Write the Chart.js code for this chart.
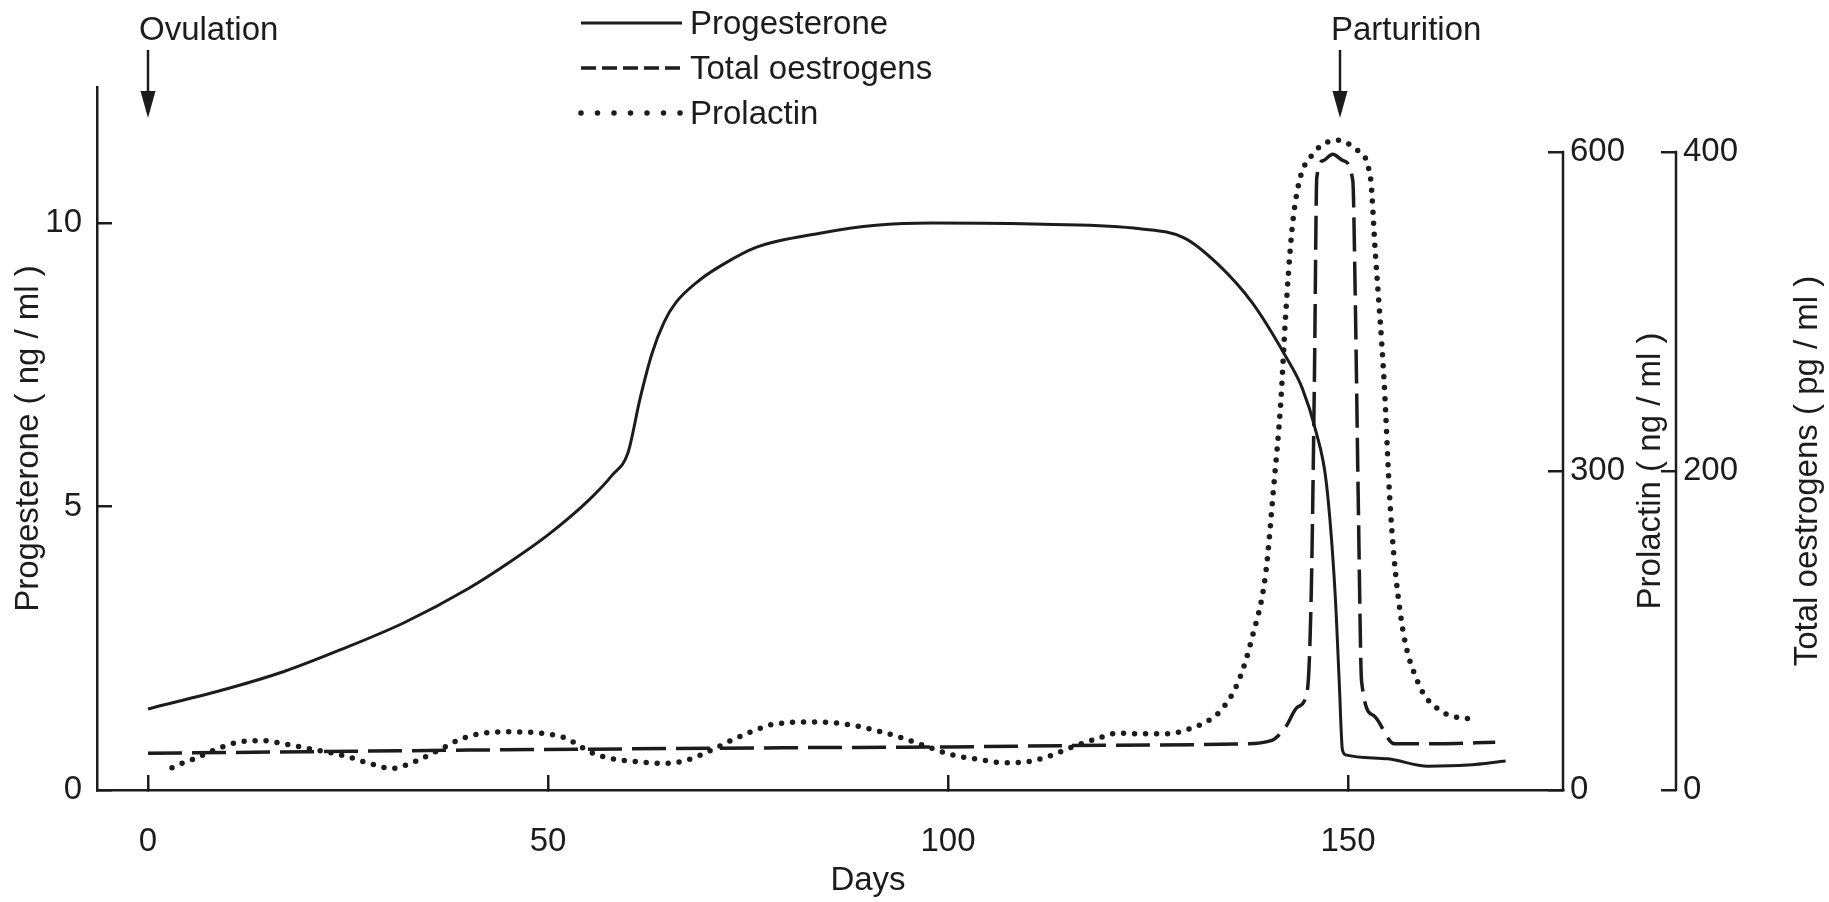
<!DOCTYPE html>
<html>
<head>
<meta charset="utf-8">
<title>Hormone levels during pregnancy</title>
<script src="https://cdn.jsdelivr.net/npm/chart.js@4.4.1/dist/chart.umd.min.js"></script>
<style>
  html, body { margin: 0; padding: 0; background: #fff; }
  #wrap { width: 1829px; height: 902px; position: relative; }
</style>
</head>
<body>
<div id="wrap"><canvas id="hormoneChart"></canvas></div>
<script>
// values (days after ovulation)
const progDays = [0, 10, 17, 24, 32, 40, 45, 50, 55, 58, 60, 61.5, 63, 64.5, 66, 69, 72, 76, 84, 91, 98, 112, 124, 129.5, 133.7, 138, 142.2, 144.3, 146, 147.3, 148.4, 148.9, 149.3, 149.7, 155, 160, 165, 169.7];
const progValues = [1.43, 1.79, 2.09, 2.47, 2.95, 3.55, 4.0, 4.5, 5.1, 5.55, 5.95, 6.9, 7.7, 8.25, 8.6, 9.0, 9.28, 9.57, 9.82, 9.96, 10.0, 9.98, 9.9, 9.74, 9.28, 8.6, 7.65, 7.08, 6.32, 5.41, 3.44, 1.92, 0.71, 0.62, 0.55, 0.42, 0.44, 0.51];

const oesDays = [0, 20, 40, 60, 80, 100, 120, 136, 140.4, 142.2, 143.7, 144.9, 145.4, 145.8, 146.1, 146.9, 148.1, 149.4, 150.6, 150.9, 151.3, 151.7, 153.2, 155.8, 161.3, 168.4];
const oesValues = [23, 24, 25, 25.8, 26.5, 27, 28, 28.8, 31, 39.5, 52, 62, 122, 257, 384, 394.6, 398.6, 394.6, 382, 311, 176, 68, 46.7, 29, 29, 30];

const prlDays = [3, 4.2, 5.7, 8.3, 11.3, 14.4, 17, 20.5, 24.6, 27.7, 30.5, 32.2, 33.8, 36.8, 38.9, 41.4, 45, 49.6, 52.1, 53.4, 55.2, 57.8, 61.3, 64.4, 67.4, 70.5, 73.1, 75.6, 78.3, 83.7, 88.2, 91.3, 94, 97.1, 100.2, 103.8, 106.9, 109.6, 112.7, 115.4, 118.5, 121.2, 124.3, 127.5, 130.4, 132, 134, 136.3, 138, 139.7, 140.7, 141.6, 142.2, 143, 143.9, 145.6, 148.6, 151.1, 152.8, 153.4, 154.5, 155.3, 156.6, 158.7, 161.7, 166];
const prlValues = [21, 25, 29, 37.7, 45, 46.4, 43.5, 38.4, 32, 25, 20.2, 23.4, 28.2, 39.3, 47.3, 52.8, 54.7, 53.1, 49, 44, 36, 29.8, 26.6, 25, 28.2, 37.7, 47.3, 55.3, 62, 64, 60.8, 55.3, 49.6, 41.6, 33.6, 28.8, 25.6, 26.2, 32, 40, 48, 53.4, 52.8, 53, 58, 63, 74, 102, 143, 203, 284, 365, 446, 527, 572, 598, 611, 602, 576, 507, 386, 264, 163, 102, 74, 66];

const dayTicks = [0, 50, 100, 150];
const progTicks = [0, 5, 10];
const prlTicks = [0, 300, 600];
const oesTicks = [0, 200, 400];

const eventDays = [0, 149];
const eventLabels = ["Ovulation", "Parturition"];

const ink = "#1c1c1c";
const fontName = '"Liberation Sans", Arial, sans-serif';

Chart.defaults.font.family = fontName;
Chart.defaults.font.size = 33;
Chart.defaults.color = ink;

function toPoints(days, values) {
    return days.map((d, i) => ({ x: d, y: values[i] }));
}

function fixTicks(values) {
    return scale => { scale.ticks = values.map(v => ({ value: v })); };
}

const axisLine = { display: true, color: ink, width: 2.5 };
const inwardTicks = {
    display: true,
    drawOnChartArea: false,
    drawTicks: true,
    tickLength: -15,
    tickWidth: 2.5,
    tickColor: ink,
    lineWidth: 2.5,
    color: ink
};

// legend samples are drawn a bit tighter than the curves
const legendDash = [[], [15, 6], [0, 16.5]];

const figureNotes = {
    id: "figureNotes",
    afterDraw(chart) {
        const ctx = chart.ctx;
        const xs = chart.scales.x;
        ctx.save();
        ctx.strokeStyle = ink;
        ctx.fillStyle = ink;
        ctx.font = "33px " + fontName;

        // right hand axes only run up to their top tick
        [["prl", "Prolactin ( ng / ml )", 88], ["oes", "Total oestrogens ( pg / ml )", 132]].forEach(([id, text, off]) => {
            const s = chart.scales[id];
            const yBottom = s.getPixelForValue(s.ticks[0].value);
            const yTop = s.getPixelForValue(s.ticks[s.ticks.length - 1].value);
            ctx.lineWidth = 2.5;
            ctx.beginPath();
            ctx.moveTo(s.left, yBottom + 1.25);
            ctx.lineTo(s.left, yTop - 1.25);
            ctx.stroke();

            ctx.save();
            ctx.translate(s.left + off, (yBottom + yTop) / 2);
            ctx.rotate(-Math.PI / 2);
            ctx.textAlign = "center";
            ctx.textBaseline = "middle";
            ctx.fillText(text, 0, 0);
            ctx.restore();
        });

        // x axis title sits right of centre in the original
        ctx.textAlign = "center";
        ctx.textBaseline = "alphabetic";
        ctx.fillText("Days", xs.getPixelForValue(90), 890);

        // legend
        chart.data.datasets.forEach((ds, i) => {
            const y = 23 + i * 45;
            ctx.save();
            ctx.lineWidth = ds.borderWidth;
            ctx.lineCap = ds.borderCapStyle || "butt";
            ctx.setLineDash(legendDash[i]);
            ctx.beginPath();
            ctx.moveTo(581, y);
            ctx.lineTo(682, y);
            ctx.stroke();
            ctx.restore();
            ctx.textAlign = "left";
            ctx.textBaseline = "alphabetic";
            ctx.fillText(ds.label, 690, y + 11);
        });

        // ovulation / parturition markers
        eventDays.forEach((d, i) => {
            const ax = xs.getPixelForValue(d);
            ctx.textAlign = "left";
            ctx.textBaseline = "alphabetic";
            ctx.fillText(eventLabels[i], ax - 9, 40);
            ctx.lineWidth = 2.5;
            ctx.beginPath();
            ctx.moveTo(ax, 50);
            ctx.lineTo(ax, 100);
            ctx.stroke();
            ctx.beginPath();
            ctx.moveTo(ax - 7.5, 91);
            ctx.lineTo(ax + 7.5, 91);
            ctx.lineTo(ax, 118);
            ctx.closePath();
            ctx.fill();
        });
        ctx.restore();
    }
};

const ctx = document.getElementById("hormoneChart").getContext("2d");

const hormoneChart = new Chart(ctx, {
    type: "line",
    data: {
        datasets: [{
            label: "Progesterone",
            data: toPoints(progDays, progValues),
            yAxisID: "y",
            borderColor: ink,
            borderWidth: 3,
            cubicInterpolationMode: "monotone",
            pointRadius: 0,
            fill: false
        }, {
            label: "Total oestrogens",
            data: toPoints(oesDays, oesValues),
            yAxisID: "oes",
            borderColor: ink,
            borderWidth: 3.5,
            borderDash: [34, 10],
            cubicInterpolationMode: "monotone",
            pointRadius: 0,
            fill: false
        }, {
            label: "Prolactin",
            data: toPoints(prlDays, prlValues),
            yAxisID: "prl",
            borderColor: ink,
            borderWidth: 5.5,
            borderDash: [0, 11],
            borderCapStyle: "round",
            cubicInterpolationMode: "monotone",
            pointRadius: 0,
            fill: false
        }]
    },
    options: {
        responsive: true,
        maintainAspectRatio: false,
        animation: false,
        layout: { padding: { top: 87, left: 0, right: 0, bottom: 0 } },
        plugins: {
            legend: { display: false },
            tooltip: { enabled: false }
        },
        scales: {
            x: {
                type: "linear",
                min: -6.375,
                max: 176.875,
                afterBuildTicks: fixTicks(dayTicks),
                afterFit: s => { s.height = 112; },
                border: axisLine,
                grid: inwardTicks,
                ticks: { padding: 47, maxRotation: 0, autoSkip: false }
            },
            y: {
                type: "linear",
                position: "left",
                min: 0,
                max: 12.4,
                afterBuildTicks: fixTicks(progTicks),
                afterFit: s => { s.width = 97; },
                border: axisLine,
                grid: inwardTicks,
                ticks: { padding: 30 },
                title: { display: true, text: "Progesterone ( ng / ml )", padding: { top: 9, bottom: 0 } }
            },
            prl: {
                type: "linear",
                position: "right",
                weight: 0,
                min: 0,
                max: 661.1,
                afterBuildTicks: fixTicks(prlTicks),
                afterFit: s => { s.width = 113; },
                border: { display: false },
                grid: inwardTicks,
                ticks: { padding: 22 }
            },
            oes: {
                type: "linear",
                position: "right",
                weight: 1,
                min: 0,
                max: 440.75,
                afterBuildTicks: fixTicks(oesTicks),
                afterFit: s => { s.width = 153; },
                border: { display: false },
                grid: inwardTicks,
                ticks: { padding: 22 }
            }
        }
    },
    plugins: [figureNotes]
});
</script>
</body>
</html>
